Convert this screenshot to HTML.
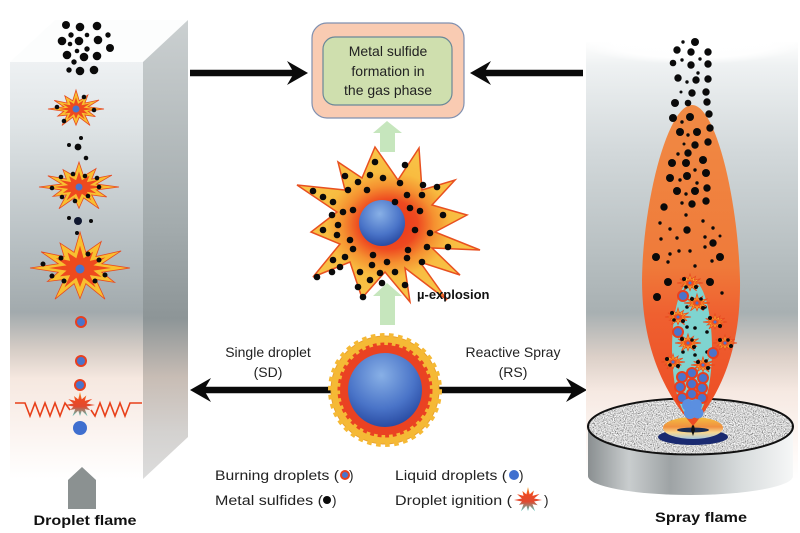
<!DOCTYPE html>
<html><head><meta charset="utf-8"><style>
html,body{margin:0;padding:0;background:#fff;}
svg{display:block;}
text{font-family:"Liberation Sans",Arial,sans-serif;}
</style></head><body>
<svg width="800" height="533" viewBox="0 0 800 533" xmlns="http://www.w3.org/2000/svg">
<defs>
<linearGradient id="front" x1="0" y1="62" x2="0" y2="479" gradientUnits="userSpaceOnUse">
<stop offset="0" stop-color="#eef1f3"/><stop offset="0.15" stop-color="#dfe4e6"/><stop offset="0.45" stop-color="#b6bec1"/><stop offset="0.6" stop-color="#a2aaad"/><stop offset="0.69" stop-color="#d6cdc6"/><stop offset="0.76" stop-color="#f6e8e0"/><stop offset="0.88" stop-color="#fbf3ef"/><stop offset="1" stop-color="#ffffff"/>
</linearGradient>
<linearGradient id="side" x1="0" y1="20" x2="0" y2="479" gradientUnits="userSpaceOnUse">
<stop offset="0" stop-color="#cbd0d1"/><stop offset="0.45" stop-color="#a3abad"/><stop offset="0.65" stop-color="#8d9597"/><stop offset="0.78" stop-color="#c8bdb5"/><stop offset="0.9" stop-color="#d4d2d0"/><stop offset="1" stop-color="#dcdcdc"/>
</linearGradient>
<linearGradient id="panel" x1="0" y1="40" x2="0" y2="480" gradientUnits="userSpaceOnUse">
<stop offset="0" stop-color="#ffffff"/><stop offset="0.06" stop-color="#eef1f2"/><stop offset="0.25" stop-color="#d3d9db"/><stop offset="0.5" stop-color="#b6bec0"/><stop offset="0.62" stop-color="#a8b0b2"/><stop offset="0.72" stop-color="#dcd0c8"/><stop offset="0.8" stop-color="#f6e9e2"/><stop offset="0.92" stop-color="#fdf7f4"/><stop offset="1" stop-color="#ffffff"/>
</linearGradient>
<linearGradient id="flame" x1="0" y1="105" x2="0" y2="428" gradientUnits="userSpaceOnUse">
<stop offset="0" stop-color="#f08a44"/><stop offset="0.5" stop-color="#ef7a3a"/><stop offset="0.65" stop-color="#ef6030"/><stop offset="1" stop-color="#ec4a22"/>
</linearGradient>
<linearGradient id="cyl" x1="588" y1="0" x2="793" y2="0" gradientUnits="userSpaceOnUse">
<stop offset="0" stop-color="#8a8f91"/><stop offset="0.2" stop-color="#c9cdce"/><stop offset="0.4" stop-color="#9ea3a5"/><stop offset="0.75" stop-color="#d8dcdd"/><stop offset="1" stop-color="#f6f7f7"/>
</linearGradient>
<linearGradient id="noz" x1="0" y1="0" x2="0" y2="1">
<stop offset="0" stop-color="#f4c040"/><stop offset="0.45" stop-color="#f09040"/><stop offset="0.7" stop-color="#f8d890"/><stop offset="1" stop-color="#a8c8e0"/>
</linearGradient>
<linearGradient id="ign" x1="0" y1="0" x2="0" y2="1">
<stop offset="0" stop-color="#f4a020"/><stop offset="0.3" stop-color="#ee4a22"/><stop offset="0.6" stop-color="#e04a30"/><stop offset="1" stop-color="#50c8c0"/>
</linearGradient>
<radialGradient id="bigstar" cx="0.5" cy="0.5" r="0.5">
<stop offset="0" stop-color="#e8301a"/><stop offset="0.32" stop-color="#ee4a20"/><stop offset="0.5" stop-color="#f59030"/><stop offset="0.68" stop-color="#f8bc40"/><stop offset="1" stop-color="#f8c448"/>
</radialGradient>
<radialGradient id="blue" cx="0.45" cy="0.3" r="0.75">
<stop offset="0" stop-color="#88b0e6"/><stop offset="0.6" stop-color="#4a74c8"/><stop offset="1" stop-color="#23449c"/>
</radialGradient>
<radialGradient id="topfade" cx="0.5" cy="0.5" r="0.5">
<stop offset="0" stop-color="#ffffff" stop-opacity="1"/><stop offset="0.7" stop-color="#ffffff" stop-opacity="0.9"/><stop offset="1" stop-color="#ffffff" stop-opacity="0"/>
</radialGradient>
<filter id="spk" x="0" y="0" width="100%" height="100%">
<feTurbulence type="fractalNoise" baseFrequency="0.9" numOctaves="2" seed="4" result="n"/>
<feColorMatrix in="n" type="matrix" values="1.2 1.2 0 0 -0.55  1.2 1.2 0 0 -0.55  1.2 1.2 0 0 -0.55  0 0 0 0 1" result="g"/>
<feComposite in="g" in2="SourceGraphic" operator="in"/>
</filter>
<polygon id="st" vector-effect="non-scaling-stroke" points="1,0 0.435,0.117 0.693,0.4 0.318,0.318 0.5,0.866 0.117,0.435 0,0.85 -0.117,0.435 -0.5,0.866 -0.318,0.318 -0.65,0.375 -0.435,0.117 -1,0 -0.435,-0.117 -0.779,-0.45 -0.318,-0.318 -0.4,-0.693 -0.117,-0.435 0,-1 0.117,-0.435 0.425,-0.736 0.318,-0.318 0.823,-0.475 0.435,-0.117"/>
<g id="bd"><circle r="6" fill="#e84020"/><circle r="4" fill="#4a74cc"/></g>
<g id="sb"><use href="#st" fill="#f8c030" stroke="#e84a20" stroke-width="0.8"/><use href="#st" transform="scale(0.62)" fill="#ee4a1e"/></g>
</defs>

<!-- LEFT BOX -->
<polygon points="10,62 55,20 188,20 143,62" fill="#fcfdfd"/>
<rect x="10" y="62" width="133" height="417" fill="url(#front)"/>
<polygon points="143,62 188,20 188,437 143,479" fill="url(#side)"/>
<polygon points="68,480 82,467 96,480 96,509 68,509" fill="#8b9191"/>
<text x="85" y="525" font-size="14" font-weight="bold" text-anchor="middle" fill="#111" textLength="103" lengthAdjust="spacingAndGlyphs">Droplet flame</text>

<!-- left top cluster -->
<g fill="#0a0a0a">
<circle cx="66" cy="25" r="4"/><circle cx="80" cy="27" r="4.3"/><circle cx="97" cy="26" r="4.3"/><circle cx="108" cy="35" r="2.7"/><circle cx="71" cy="35" r="2.7"/><circle cx="87" cy="35" r="2.3"/><circle cx="62" cy="41" r="4.3"/><circle cx="79" cy="41" r="4.3"/><circle cx="98" cy="40" r="4.3"/><circle cx="70" cy="44" r="2.3"/><circle cx="77" cy="51" r="2.3"/><circle cx="87" cy="49" r="2.7"/><circle cx="110" cy="48" r="4"/><circle cx="67" cy="55" r="4.3"/><circle cx="84" cy="57" r="4.3"/><circle cx="97" cy="56" r="4.3"/><circle cx="74" cy="62" r="2.7"/><circle cx="69" cy="70" r="2.7"/><circle cx="80" cy="71" r="4.3"/><circle cx="94" cy="70" r="4.3"/>
<circle cx="81" cy="138" r="2"/><circle cx="69" cy="145" r="2"/><circle cx="78" cy="147" r="3.4"/><circle cx="86" cy="158" r="2.3"/>
<circle cx="69" cy="218" r="2"/><circle cx="91" cy="221" r="2"/><circle cx="77" cy="233" r="2"/>
</g>
<circle cx="78" cy="221" r="4" fill="#101830"/>
<!-- left stars -->
<g transform="translate(76,109) scale(28,19)"><use href="#sb"/></g>
<g transform="translate(79,187) scale(40,25)"><use href="#sb"/></g>
<g transform="translate(80,268) scale(50,36)"><use href="#sb"/></g>
<g fill="#4a74cc"><circle cx="76" cy="109" r="3.5"/><circle cx="79" cy="187" r="3.5"/><circle cx="80" cy="269" r="4.5"/></g>
<g fill="#0a0a0a">
<circle cx="57" cy="107" r="2.3"/><circle cx="84" cy="97" r="2.3"/><circle cx="94" cy="110" r="2.3"/><circle cx="64" cy="121" r="2.3"/>
<circle cx="52" cy="188" r="2.3"/><circle cx="61" cy="177" r="2.3"/><circle cx="73" cy="174" r="2.3"/><circle cx="85" cy="176" r="2.3"/><circle cx="97" cy="178" r="2.3"/><circle cx="99" cy="187" r="2.3"/><circle cx="88" cy="196" r="2.3"/><circle cx="75" cy="201" r="2.3"/><circle cx="62" cy="197" r="2.3"/>
<circle cx="52" cy="276" r="2.5"/><circle cx="64" cy="281" r="2.5"/><circle cx="95" cy="281" r="2.5"/><circle cx="105" cy="275" r="2.5"/><circle cx="43" cy="264" r="2.5"/><circle cx="61" cy="258" r="2.5"/><circle cx="88" cy="254" r="2.5"/><circle cx="99" cy="260" r="2.5"/>
</g>
<use href="#bd" x="81" y="322"/>
<use href="#bd" x="81" y="361"/>
<use href="#bd" x="80" y="385"/>
<polyline points="15,403 25,403 30,416 35,403 40,416 45,403 50,416 55,403 60,416 65,403 70,410" fill="none" stroke="#e8401a" stroke-width="1.6"/>
<polyline points="91,410 95,416 100,403 105,416 110,403 115,416 120,403 125,416 130,403 142,403" fill="none" stroke="#e8401a" stroke-width="1.6"/>
<g transform="translate(80,405) scale(15,13)"><use href="#st" fill="url(#ign)"/></g>
<circle cx="80" cy="428" r="7" fill="#3f6fcf"/>

<!-- TOP CENTER BOX -->
<rect x="312" y="23" width="152" height="95" rx="15" fill="#f9cbb2" stroke="#8090b0" stroke-width="1.2"/>
<rect x="323" y="37" width="129" height="68" rx="12" fill="#cfdfae" stroke="#6a8898" stroke-width="1.2"/>
<g font-size="14" fill="#222" text-anchor="middle">
<text x="388" y="56">Metal sulfide</text>
<text x="388" y="76">formation in</text>
<text x="388" y="95">the gas phase</text>
</g>

<!-- top arrows -->
<line x1="190" y1="73" x2="296" y2="73" stroke="#0a0a0a" stroke-width="6.5"/>
<polygon points="308,73 287,61 294,73 287,85" fill="#0a0a0a"/>
<line x1="583" y1="73" x2="482" y2="73" stroke="#0a0a0a" stroke-width="6.5"/>
<polygon points="470,73 491,61 484,73 491,85" fill="#0a0a0a"/>

<!-- green arrows -->
<polygon points="387,121 402,133 395,133 395,152 380,152 380,133 373,133" fill="#c6e6bd"/>
<polygon points="387,283 402,296 395,296 395,325 380,325 380,296 373,296" fill="#c6e6bd"/>

<!-- big explosion -->
<polygon points="375,147 398,180 419,148 422,190 455,180 432,205 467,215 435,232 480,250 432,248 460,275 420,262 447,300 405,268 410,302 385,272 362,298 350,262 313,277 340,244 311,232 337,212 297,185 345,190 338,162 362,178" fill="url(#bigstar)" stroke="#e85020" stroke-width="1.5" stroke-linejoin="miter"/>
<circle cx="382" cy="223" r="23" fill="url(#blue)"/>
<g fill="#0a0a0a">
<circle cx="375" cy="162" r="3.3"/><circle cx="405" cy="165" r="3.3"/><circle cx="345" cy="176" r="3.3"/><circle cx="370" cy="175" r="3.3"/><circle cx="383" cy="178" r="3.3"/><circle cx="400" cy="183" r="3.3"/><circle cx="358" cy="182" r="3.3"/><circle cx="313" cy="191" r="3.3"/><circle cx="323" cy="197" r="3.3"/><circle cx="333" cy="202" r="3.3"/><circle cx="348" cy="190" r="3.3"/><circle cx="367" cy="190" r="3.3"/><circle cx="395" cy="202" r="3.3"/><circle cx="407" cy="195" r="3.3"/><circle cx="423" cy="185" r="3.3"/><circle cx="437" cy="187" r="3.3"/><circle cx="422" cy="195" r="3.3"/><circle cx="332" cy="215" r="3.3"/><circle cx="343" cy="212" r="3.3"/><circle cx="353" cy="210" r="3.3"/><circle cx="338" cy="225" r="3.3"/><circle cx="323" cy="230" r="3.3"/><circle cx="337" cy="235" r="3.3"/><circle cx="350" cy="240" r="3.3"/><circle cx="353" cy="249" r="3.3"/><circle cx="410" cy="208" r="3.3"/><circle cx="420" cy="211" r="3.3"/><circle cx="443" cy="215" r="3.3"/><circle cx="415" cy="230" r="3.3"/><circle cx="430" cy="233" r="3.3"/><circle cx="408" cy="250" r="3.3"/><circle cx="427" cy="247" r="3.3"/><circle cx="448" cy="247" r="3.3"/><circle cx="373" cy="255" r="3.3"/><circle cx="387" cy="262" r="3.3"/><circle cx="407" cy="258" r="3.3"/><circle cx="422" cy="262" r="3.3"/><circle cx="345" cy="257" r="3.3"/><circle cx="333" cy="260" r="3.3"/><circle cx="340" cy="267" r="3.3"/><circle cx="332" cy="272" r="3.3"/><circle cx="317" cy="277" r="3.3"/><circle cx="360" cy="272" r="3.3"/><circle cx="372" cy="265" r="3.3"/><circle cx="380" cy="273" r="3.3"/><circle cx="395" cy="272" r="3.3"/><circle cx="370" cy="280" r="3.3"/><circle cx="358" cy="287" r="3.3"/><circle cx="382" cy="283" r="3.3"/><circle cx="405" cy="285" r="3.3"/><circle cx="363" cy="297" r="3.3"/>
</g>
<text x="417" y="299" font-size="13" font-weight="bold" fill="#111">µ-explosion</text>

<!-- double arrow -->
<line x1="200" y1="390" x2="340" y2="390" stroke="#0a0a0a" stroke-width="6.5"/>
<polygon points="190,390 211,378 204,390 211,402" fill="#0a0a0a"/>
<line x1="430" y1="390" x2="576" y2="390" stroke="#0a0a0a" stroke-width="6.5"/>
<polygon points="587,390 566,378 573,390 566,402" fill="#0a0a0a"/>

<!-- burning droplet center -->
<circle cx="385" cy="390" r="54" fill="#f5b935" stroke="#e8a030" stroke-width="1"/>
<circle cx="385" cy="390" r="54" fill="none" stroke="#f5b935" stroke-width="6" stroke-dasharray="4.5 4.4"/>
<circle cx="385" cy="390" r="45" fill="#ea4222"/>
<circle cx="385" cy="390" r="45" fill="none" stroke="#ea4222" stroke-width="5" stroke-dasharray="3.8 3.6"/>
<circle cx="385" cy="390" r="37" fill="url(#blue)"/>

<g font-size="14" fill="#222" text-anchor="middle">
<text x="268" y="357">Single droplet</text>
<text x="268" y="377">(SD)</text>
<text x="513" y="357">Reactive Spray</text>
<text x="513" y="377">(RS)</text>
</g>

<!-- legend -->
<g font-size="13.5" fill="#222">
<text x="215" y="480" textLength="124" lengthAdjust="spacingAndGlyphs">Burning droplets (</text>
<text x="349" y="480">)</text>
<text x="215" y="505" textLength="108" lengthAdjust="spacingAndGlyphs">Metal sulfides (</text>
<text x="332" y="505">)</text>
<text x="395" y="480" textLength="112" lengthAdjust="spacingAndGlyphs">Liquid droplets (</text>
<text x="519" y="480">)</text>
<text x="395" y="505" textLength="117" lengthAdjust="spacingAndGlyphs">Droplet ignition (</text>
<text x="544" y="505">)</text>
</g>
<circle cx="345" cy="475" r="5" fill="#e84020"/><circle cx="345" cy="475" r="3" fill="#4a74cc"/>
<circle cx="327" cy="500" r="4" fill="#0a0a0a"/>
<circle cx="514" cy="475" r="5" fill="#3f6fcf"/>
<g transform="translate(528,500) scale(14,13)"><use href="#st" fill="url(#ign)"/></g>

<!-- RIGHT PANEL -->
<rect x="586" y="42" width="212" height="440" fill="url(#panel)"/>
<ellipse cx="692" cy="44" rx="112" ry="20" fill="url(#topfade)"/>
<!-- cylinder -->
<rect x="588" y="426" width="205" height="50" fill="url(#cyl)"/>
<ellipse cx="690.5" cy="476" rx="102.5" ry="19" fill="url(#cyl)"/>
<ellipse cx="690.5" cy="426.5" rx="102.5" ry="28" fill="#b4b4b4"/>
<ellipse cx="690.5" cy="426.5" rx="102.5" ry="28" fill="#fff" filter="url(#spk)"/>
<ellipse cx="690.5" cy="426.5" rx="102.5" ry="28" fill="none" stroke="#111" stroke-width="2"/>
<!-- nozzle -->
<ellipse cx="693" cy="437" rx="35" ry="8" fill="#1a2a70"/>
<ellipse cx="693" cy="428" rx="30" ry="11" fill="url(#noz)"/>
<ellipse cx="693" cy="430" rx="16" ry="2.5" fill="#1a2a50"/>
<polygon points="693,421 695,430 693,436 691,430" fill="#111"/>
<!-- flame -->
<path d="M692,105 C716,105 738,200 740,280 C741,350 720,395 693,426 C666,395 642,350 642,280 C643,200 668,105 692,105 Z" fill="url(#flame)"/>
<ellipse cx="692" cy="349" rx="20" ry="69" fill="#7fd4d0"/>
<!-- spray dots -->
<g fill="#0a0a0a">
<circle cx="695" cy="42" r="4"/><circle cx="683" cy="42" r="1.7"/><circle cx="677" cy="50" r="3.7"/><circle cx="691" cy="52" r="3.7"/><circle cx="708" cy="52" r="3.7"/><circle cx="700" cy="59" r="1.7"/><circle cx="682" cy="60" r="1.7"/><circle cx="673" cy="63" r="3.3"/><circle cx="691" cy="65" r="3.7"/><circle cx="708" cy="64" r="3.7"/><circle cx="678" cy="78" r="3.7"/><circle cx="696" cy="80" r="3.7"/><circle cx="708" cy="79" r="3.7"/><circle cx="687" cy="82" r="1.7"/><circle cx="698" cy="73" r="1.7"/><circle cx="681" cy="92" r="1.5"/><circle cx="692" cy="93" r="3.7"/><circle cx="706" cy="92" r="3.7"/><circle cx="675" cy="103" r="4"/><circle cx="688" cy="103" r="3.3"/><circle cx="707" cy="102" r="3.7"/><circle cx="673" cy="118" r="4"/><circle cx="690" cy="117" r="4"/><circle cx="709" cy="114" r="3.7"/><circle cx="682" cy="122" r="1.7"/><circle cx="680" cy="132" r="4"/><circle cx="697" cy="132" r="4"/><circle cx="710" cy="128" r="3.7"/><circle cx="688" cy="135" r="1.7"/><circle cx="695" cy="145" r="3.7"/><circle cx="708" cy="142" r="3.7"/><circle cx="684" cy="144" r="1.5"/><circle cx="688" cy="153" r="3.7"/><circle cx="678" cy="154" r="1.7"/><circle cx="703" cy="160" r="4"/><circle cx="672" cy="163" r="4"/><circle cx="686" cy="163" r="4"/><circle cx="695" cy="170" r="1.7"/><circle cx="706" cy="173" r="4"/><circle cx="670" cy="178" r="4"/><circle cx="680" cy="180" r="1.7"/><circle cx="687" cy="176" r="4"/><circle cx="697" cy="183" r="1.7"/><circle cx="677" cy="191" r="4"/><circle cx="695" cy="191" r="4"/><circle cx="707" cy="188" r="3.7"/><circle cx="686" cy="194" r="1.7"/><circle cx="664" cy="207" r="3.7"/><circle cx="682" cy="203" r="1.7"/><circle cx="692" cy="204" r="3.7"/><circle cx="706" cy="201" r="3.7"/><circle cx="686" cy="215" r="1.7"/><circle cx="660" cy="223" r="1.7"/><circle cx="670" cy="229" r="1.7"/><circle cx="687" cy="230" r="3.7"/><circle cx="703" cy="221" r="1.7"/><circle cx="713" cy="228" r="1.7"/><circle cx="661" cy="239" r="1.7"/><circle cx="677" cy="238" r="1.7"/><circle cx="713" cy="243" r="3.7"/><circle cx="705" cy="237" r="1.7"/><circle cx="720" cy="236" r="1.5"/><circle cx="656" cy="257" r="4"/><circle cx="670" cy="254" r="1.7"/><circle cx="679" cy="251" r="1.7"/><circle cx="690" cy="251" r="1.7"/><circle cx="705" cy="247" r="1.7"/><circle cx="720" cy="257" r="4"/><circle cx="668" cy="262" r="1.7"/><circle cx="712" cy="261" r="1.7"/>
<circle cx="668" cy="282" r="4"/><circle cx="657" cy="297" r="4"/><circle cx="710" cy="282" r="4"/><circle cx="695" cy="266" r="1.7"/><circle cx="722" cy="293" r="1.7"/>
<circle cx="687" cy="307" r="1.8"/><circle cx="705" cy="307" r="1.8"/><circle cx="687" cy="327" r="1.8"/><circle cx="695" cy="328" r="1.8"/><circle cx="707" cy="332" r="1.8"/><circle cx="682" cy="338" r="1.8"/><circle cx="683" cy="352" r="1.8"/><circle cx="695" cy="355" r="1.8"/><circle cx="707" cy="352" r="1.8"/>
</g>
<!-- spray small stars -->
<g transform="translate(690,283) scale(13,9)"><use href="#sb"/></g>
<g transform="translate(697,303) scale(13,9)"><use href="#sb"/></g>
<g transform="translate(678,317) scale(13,9)"><use href="#sb"/></g>
<g transform="translate(715,322) scale(12,8)"><use href="#sb"/></g>
<g transform="translate(688,343) scale(13,9)"><use href="#sb"/></g>
<g transform="translate(725,343) scale(12,8)"><use href="#sb"/></g>
<g transform="translate(673,362) scale(12,8)"><use href="#sb"/></g>
<g transform="translate(703,365) scale(12,8)"><use href="#sb"/></g>
<g fill="#0a0a0a">
<circle cx="684" cy="279" r="2"/><circle cx="696" cy="287" r="2"/><circle cx="692" cy="299" r="2"/><circle cx="703" cy="308" r="2"/><circle cx="672" cy="313" r="2"/><circle cx="683" cy="321" r="2"/><circle cx="710" cy="318" r="2"/><circle cx="720" cy="326" r="2"/><circle cx="682" cy="339" r="2"/><circle cx="694" cy="347" r="2"/><circle cx="720" cy="340" r="2"/><circle cx="731" cy="346" r="2"/><circle cx="667" cy="359" r="2"/><circle cx="678" cy="366" r="2"/><circle cx="698" cy="362" r="2"/><circle cx="708" cy="368" r="2"/>
<circle cx="686" cy="287" r="1.8"/><circle cx="701" cy="299" r="1.8"/><circle cx="674" cy="320" r="1.8"/><circle cx="692" cy="340" r="1.8"/><circle cx="728" cy="340" r="1.8"/><circle cx="670" cy="365" r="1.8"/><circle cx="706" cy="361" r="1.8"/>
</g>
<g fill="#4a74cc"><circle cx="690" cy="283" r="1.5"/><circle cx="697" cy="303" r="1.5"/><circle cx="678" cy="317" r="1.5"/><circle cx="715" cy="322" r="1.5"/><circle cx="688" cy="343" r="1.5"/><circle cx="725" cy="343" r="1.5"/><circle cx="673" cy="362" r="1.5"/><circle cx="703" cy="365" r="1.5"/></g>
<use href="#bd" x="683" y="296"/>
<use href="#bd" x="678" y="332"/>
<use href="#bd" x="713" y="353"/>
<use href="#bd" x="682" y="377"/><use href="#bd" x="692" y="373"/><use href="#bd" x="703" y="378"/>
<use href="#bd" x="680" y="387"/><use href="#bd" x="692" y="384"/><use href="#bd" x="702" y="388"/>
<use href="#bd" x="682" y="398"/><use href="#bd" x="692" y="394"/><use href="#bd" x="702" y="398"/>
<g fill="#5b8fe0"><circle cx="688" cy="405" r="6"/><circle cx="696" cy="405" r="6"/><circle cx="690" cy="413" r="6"/><circle cx="698" cy="413" r="5.5"/></g>

<text x="701" y="522" font-size="14" font-weight="bold" text-anchor="middle" fill="#111" textLength="92" lengthAdjust="spacingAndGlyphs">Spray flame</text>
</svg>
</body></html>
